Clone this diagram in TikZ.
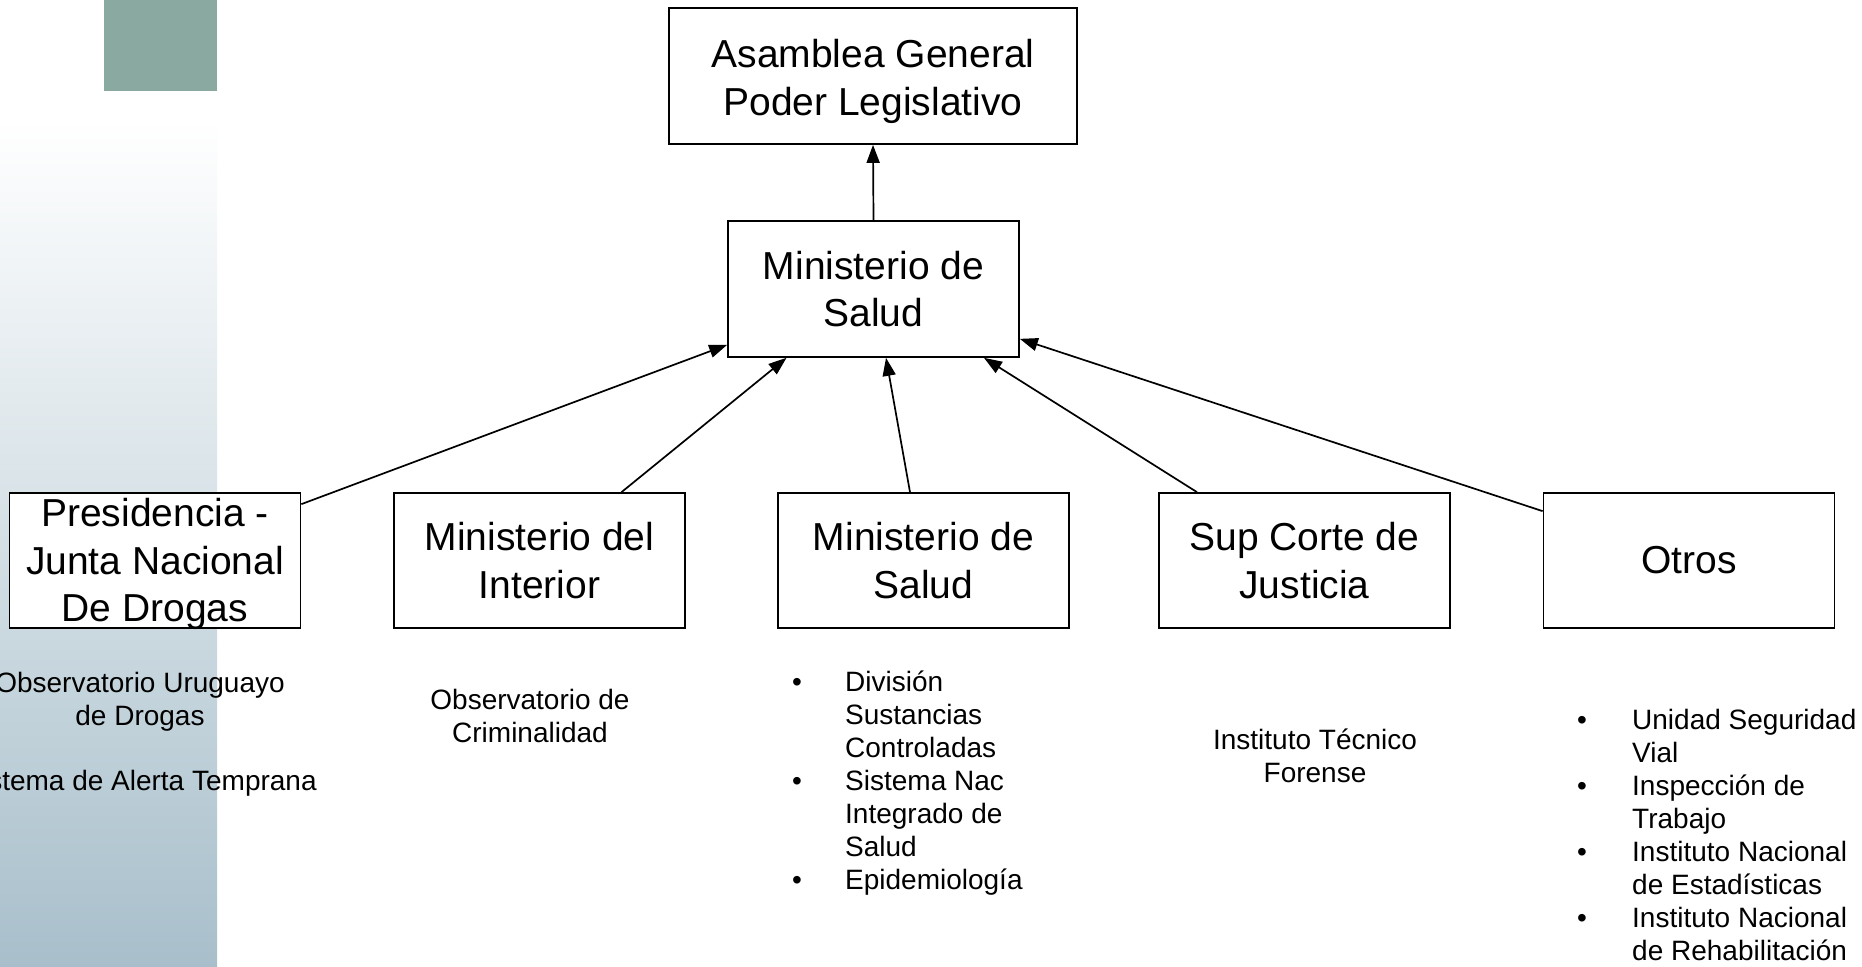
\documentclass[tikz,border=0pt]{standalone}
\usepackage{fontspec}
\setmainfont{Liberation Sans}
\usetikzlibrary{arrows.meta}
\definecolor{tealsq}{HTML}{8AA9A0}
\definecolor{panelbot}{HTML}{A8BFCB}
\begin{document}
\begin{tikzpicture}[x=1pt,y=-1pt,
  box/.style={draw=black,line width=1.7pt,fill=white,minimum width=291pt,minimum height=135pt,inner sep=0pt,align=center,font=\fontsize{39}{47.5}\selectfont},
  note/.style={inner sep=0pt,font=\fontsize{28}{33}\selectfont},
  conn/.style={line width=1.7pt,-{Triangle[length=18pt,width=13pt]}}]
\useasboundingbox (0,0) rectangle (1862,966);
\fill[white] (0,0) rectangle (1862,966);
\shade[top color=white,bottom color=panelbot] (0,119) rectangle (217,966);
\fill[tealsq] (104,0) rectangle (217,91);

\node[box,minimum width=408pt,minimum height=136pt] (top) at (873,76) {\rule{0pt}{39pt}Asamblea General\\Poder Legislativo};
\node[box,minimum height=136pt] (mid) at (873.5,289) {Ministerio de\\Salud};

\node[box] (pres) at (155,560.5) {Presidencia -\\Junta Nacional\\De Dro\smash{g}as};
\node[box] (int) at (539.5,560.5) {Ministerio del\\Interior};
\node[box] (sal) at (923.5,560.5) {Ministerio de\\Salud};
\node[box] (sup) at (1304.5,560.5) {Sup Corte de\\Justicia};
\node[box] (otr) at (1689,560.5) {Otros};

\draw[conn] (mid.north) -- (top.south);
\draw[conn] ([yshift=-12pt]pres.north east) -- ([yshift=13pt]mid.south west);
\draw[conn] ([xshift=82pt]int.north) -- ([xshift=-87pt]mid.south);
\draw[conn] ([xshift=-13.5pt]sal.north) -- ([xshift=12.5pt]mid.south);
\draw[conn] ([xshift=-107.5pt]sup.north) -- ([xshift=110.5pt]mid.south);
\draw[conn] ([yshift=-19pt]otr.north west) -- ([yshift=19pt]mid.south east);

\node[note,anchor=base] (presnote) at (140,692) {\begin{tabular}[t]{@{}c@{}}Observatorio Uruguayo\\de Drogas\\[32pt]Sistema de Alerta Temprana\end{tabular}};
\node[note,anchor=base] (intnote) at (530,709) {\begin{tabular}[t]{@{}c@{}}Observatorio de\\Criminalidad\end{tabular}};
\node[note,anchor=base] (supnote) at (1315,749) {\begin{tabular}[t]{@{}c@{}}Instituto Técnico\\Forense\end{tabular}};
\node[note,anchor=base west] (salnote) at (792,691) {\begin{tabular}[t]{@{}p{53pt}@{}l@{}}
•&División\\&Sustancias\\&Controladas\\
•&Sistema Nac\\&Integrado de\\&Salud\\
•&Epidemiología\end{tabular}};
\node[note,anchor=base west] (otrnote) at (1577,729) {\begin{tabular}[t]{@{}p{55pt}@{}l@{}}
•&Unidad Seguridad\\&Vial\\
•&Inspección de\\&Trabajo\\
•&Instituto Nacional\\&de Estadísticas\\
•&Instituto Nacional\\&de Rehabilitación\end{tabular}};
\end{tikzpicture}
\end{document}
